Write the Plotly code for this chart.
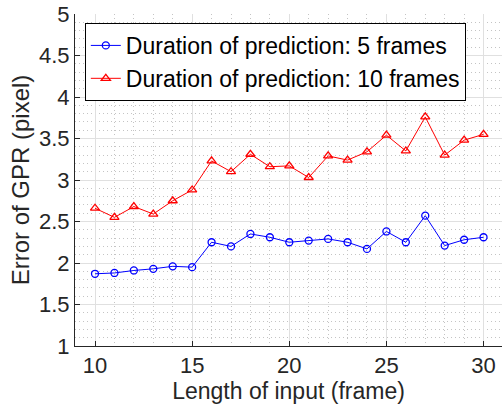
import plotly.graph_objects as go

frames = list(range(10, 31))
err_5 = [1.87, 1.88, 1.91, 1.93, 1.96, 1.95, 2.25, 2.20, 2.35, 2.31, 2.25,
         2.27, 2.29, 2.25, 2.17, 2.38, 2.25, 2.57, 2.21, 2.28, 2.31]
err_10 = [2.66, 2.55, 2.68, 2.59, 2.75, 2.88, 3.23, 3.10, 3.31, 3.16, 3.17,
          3.03, 3.29, 3.24, 3.34, 3.54, 3.35, 3.76, 3.30, 3.48, 3.55]
x_ticks = [10, 15, 20, 25, 30]
y_ticks = [1, 1.5, 2, 2.5, 3, 3.5, 4, 4.5, 5]

FONT = "Liberation Sans, Arial, Helvetica, sans-serif"

fig = go.Figure()
fig.add_trace(go.Scatter(
    x=frames, y=err_5, mode="lines+markers",
    name="Duration of prediction: 5 frames",
    line=dict(color="#0000ff", width=1),
    marker=dict(symbol="circle-open", size=7, color="#0000ff", line=dict(width=1.3)),
))
fig.add_trace(go.Scatter(
    x=frames, y=err_10, mode="lines+markers",
    name="Duration of prediction: 10 frames",
    line=dict(color="#ff0000", width=1),
    marker=dict(symbol="triangle-up-open", size=8, color="#ff0000", line=dict(width=1.3)),
))

axis_common = dict(
    showline=True, linecolor="#262626", linewidth=1, mirror=False,
    ticks="inside", ticklen=5, tickwidth=1, tickcolor="#262626",
    showgrid=True, gridcolor="#e0e0e0", gridwidth=1,
    zeroline=False,
    tickfont=dict(family=FONT, size=22, color="#262626"),
)

minor_common = dict(showgrid=True, gridcolor="#c4c4c4", griddash="1px,3px", gridwidth=1, ticks="")

fig.update_xaxes(
    range=[8.97, 30.95], tickvals=x_ticks,
    title=dict(text="Length of input (frame)", font=dict(family=FONT, size=23, color="#262626"), standoff=3),
    minor=dict(dtick=1, tick0=9, **minor_common),
    **axis_common,
)
fig.update_yaxes(
    range=[1, 5], tickvals=y_ticks, ticktext=[f"{v:g}" for v in y_ticks],
    title=dict(text="Error of GPR (pixel)", font=dict(family=FONT, size=24, color="#262626"), standoff=2),
    minor=dict(dtick=0.1, tick0=1, **minor_common),
    **axis_common,
)

fig.update_layout(
    width=502, height=404,
    margin=dict(l=75, r=0, t=14, b=58),
    plot_bgcolor="white", paper_bgcolor="white",
    font=dict(family=FONT, color="#000000"),
    legend=dict(
        x=0.023, y=0.973, xanchor="left", yanchor="top",
        bgcolor="white", bordercolor="#000000", borderwidth=1,
        font=dict(family=FONT, size=23, color="#000000"),
        tracegroupgap=0, itemwidth=30,
    ),
    showlegend=True,
)

fig.write_html("out.html")
